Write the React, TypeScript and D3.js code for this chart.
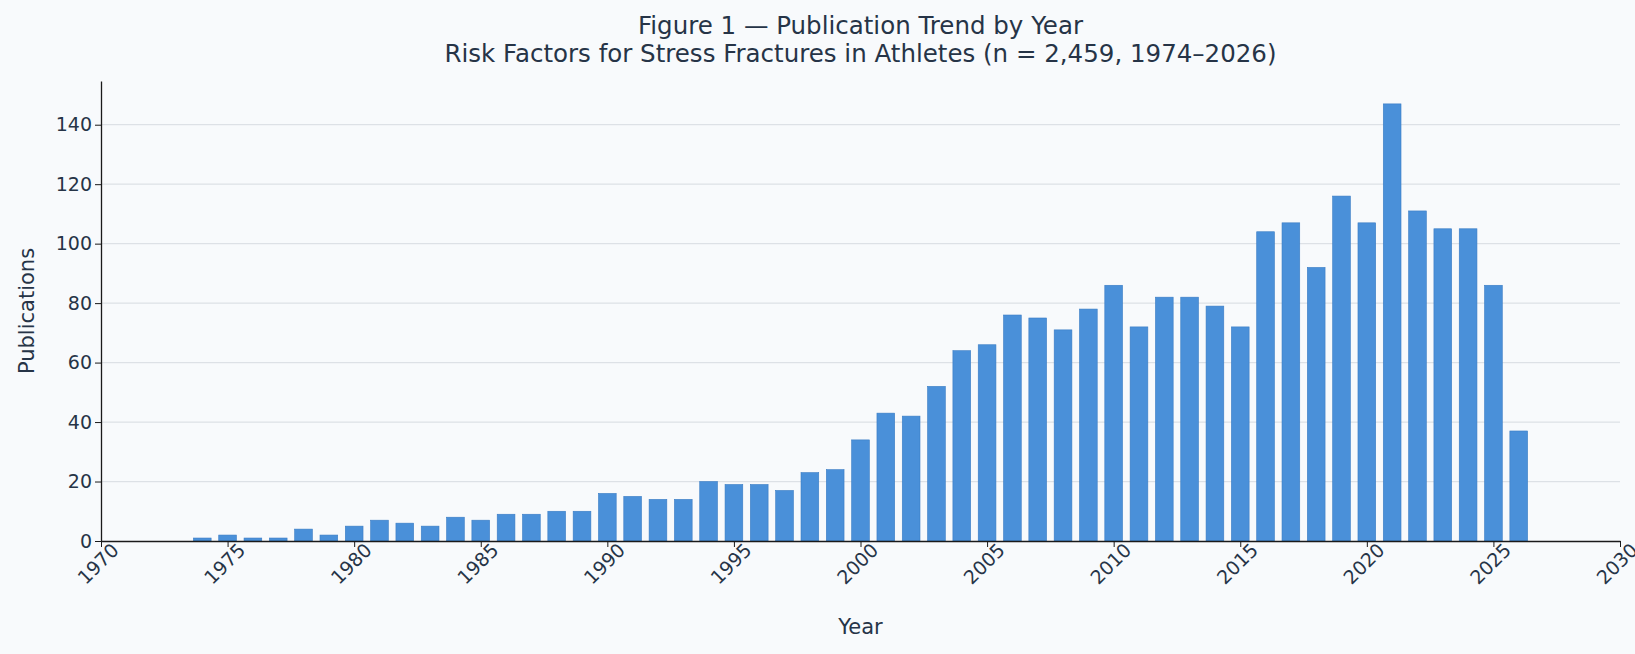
import { useEffect, useRef } from "react";
import * as d3 from "d3";

const years = d3.range(1974, 2027);
const counts = [
  1, 2, 1, 1, 4, 2, 5, 7, 6, 5, 8, 7, 9, 9, 10, 10,
  16, 15, 14, 14, 20, 19, 19, 17, 23, 24,
  34, 43, 42, 52, 64, 66, 76, 75, 71, 78,
  86, 72, 82, 82, 79, 72, 104, 107, 92, 116,
  107, 147, 111, 105, 105, 86, 37,
];
const xTicks = d3.range(1970, 2031, 5);
const yTicks = [0, 20, 40, 60, 80, 100, 120, 140];

const W = 1635;
const H = 654;
const TEXT = "#263447";

export default function App() {
  const ref = useRef<SVGSVGElement>(null);

  useEffect(() => {
    document.body.style.margin = "0";
    const svg = d3.select(ref.current!);
    svg.selectAll("*").remove();

    const m = { top: 81, right: 15, bottom: 113, left: 101 };
    const x = d3.scaleLinear().domain([1970, 2030]).range([m.left, W - m.right]);
    const y = d3.scaleLinear().domain([0, 154.7]).range([H - m.bottom, m.top]);
    const font = "DejaVu Sans, sans-serif";
    const cx = (m.left + W - m.right) / 2;

    svg.append("rect").attr("width", W).attr("height", H).attr("fill", "#f8fafc");

    // grid
    svg.append("g").selectAll("line").data(yTicks.slice(1)).join("line")
      .attr("x1", m.left).attr("x2", W - m.right)
      .attr("y1", (d) => y(d)).attr("y2", (d) => y(d))
      .attr("stroke", "#dde1e6").attr("stroke-width", 1.2);

    // bars
    const bw = x(1970.7) - x(1970);
    svg.append("g").selectAll("rect").data(years).join("rect")
      .attr("x", (d) => x(d) - bw / 2)
      .attr("width", bw)
      .attr("y", (_, i) => y(counts[i]))
      .attr("height", (_, i) => y(0) - y(counts[i]))
      .attr("fill", "#4a90d9")
      .attr("stroke", "#3a7cc4")
      .attr("stroke-width", 0.6);

    // x axis
    svg.append("g")
      .attr("transform", `translate(0,${y(0)})`)
      .call(d3.axisBottom(x).tickValues(xTicks).tickFormat((d) => `${d}`).tickSize(6).tickSizeOuter(0))
      .call((g) => g.select(".domain").attr("stroke", "#1a1a1a").attr("stroke-width", 1.3))
      .call((g) => g.selectAll(".tick line").attr("stroke", "#1a1a1a"))
      .call((g) => g.selectAll(".tick text")
        .attr("fill", TEXT).attr("font-size", 19).attr("font-family", font)
        .attr("text-anchor", "end").attr("dx", "0.3em").attr("dy", "0.6em")
        .attr("transform", "rotate(-45)"));

    // y axis
    svg.append("g")
      .attr("transform", `translate(${m.left},0)`)
      .call(d3.axisLeft(y).tickValues(yTicks).tickSize(6).tickSizeOuter(0))
      .call((g) => g.select(".domain").attr("stroke", "#1a1a1a").attr("stroke-width", 1.3))
      .call((g) => g.selectAll(".tick line").attr("stroke", "#1a1a1a"))
      .call((g) => g.selectAll(".tick text")
        .attr("fill", TEXT).attr("font-size", 19).attr("font-family", font));

    svg.append("text").attr("x", cx).attr("y", 634)
      .attr("text-anchor", "middle").attr("fill", TEXT).attr("font-size", 21)
      .attr("font-family", font).text("Year");
    svg.append("text")
      .attr("transform", `translate(34,${(m.top + H - m.bottom) / 2}) rotate(-90)`)
      .attr("text-anchor", "middle").attr("fill", TEXT).attr("font-size", 21)
      .attr("font-family", font).text("Publications");

    const title = svg.append("text").attr("text-anchor", "middle")
      .attr("fill", TEXT).attr("font-size", 24.5).attr("font-family", font);
    title.append("tspan").attr("x", cx).attr("y", 34)
      .text("Figure 1 — Publication Trend by Year");
    title.append("tspan").attr("x", cx).attr("y", 62)
      .text("Risk Factors for Stress Fractures in Athletes (n = 2,459, 1974–2026)");
  }, []);

  return <svg ref={ref} width={W} height={H} style={{ display: "block" }} />;
}
